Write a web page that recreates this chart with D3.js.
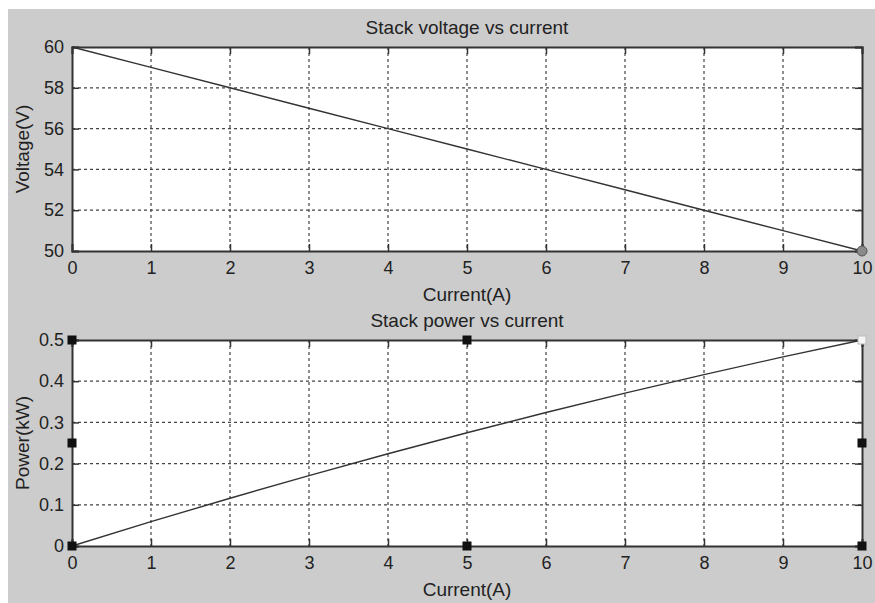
<!DOCTYPE html>
<html>
<head>
<meta charset="utf-8">
<script src="https://cdn.jsdelivr.net/npm/d3@7"></script>
<style>
  body { margin: 0; background: #fff; }
  text { font-family: "Liberation Sans", Arial, sans-serif; fill: #222; }
</style>
</head>
<body>
<script>
var current = [0, 1, 2, 3, 4, 5, 6, 7, 8, 9, 10];
var voltage = [60, 59, 58, 57, 56, 55, 54, 53, 52, 51, 50];
var power = [0, 0.059, 0.116, 0.171, 0.224, 0.275, 0.324, 0.371, 0.416, 0.459, 0.5];
var xTicks = [0, 1, 2, 3, 4, 5, 6, 7, 8, 9, 10];
var vTicks = [50, 52, 54, 56, 58, 60];
var pTicks = [0, 0.1, 0.2, 0.3, 0.4, 0.5];
// selection handles shown on the power axes
var handleX = [0, 5, 10, 0, 10, 0, 5, 10];
var handleY = [0.5, 0.5, 0.5, 0.25, 0.25, 0, 0, 0];

var width = 875, height = 603;

var svg = d3.select('body').append('svg')
  .attr('width', width)
  .attr('height', height);

svg.append('rect')
  .attr('x', 8).attr('y', 9)
  .attr('width', width - 8).attr('height', height - 9)
  .attr('fill', '#cccccc');

function panel(opts) {
  var x = d3.scaleLinear().domain([0, 10]).range([72, 862]);
  var y = d3.scaleLinear().domain(opts.domain).range([opts.bottom, opts.top]);
  var g = svg.append('g');

  g.append('rect')
    .attr('x', 72).attr('y', opts.top)
    .attr('width', 790).attr('height', opts.bottom - opts.top)
    .attr('fill', '#fff');

  // grid
  g.selectAll('.gx').data(xTicks.slice(1, -1)).enter().append('line')
    .attr('x1', function(d){ return x(d); }).attr('x2', function(d){ return x(d); })
    .attr('y1', opts.top).attr('y2', opts.bottom)
    .attr('stroke', '#444').attr('stroke-width', 1.2)
    .attr('stroke-dasharray', '3,3');
  g.selectAll('.gy').data(opts.ticks.slice(1, -1)).enter().append('line')
    .attr('y1', function(d){ return y(d); }).attr('y2', function(d){ return y(d); })
    .attr('x1', 72).attr('x2', 862)
    .attr('stroke', '#444').attr('stroke-width', 1.2)
    .attr('stroke-dasharray', '3,3');

  // axes with inward ticks
  var xb = d3.axisBottom(x).tickValues(xTicks).tickSize(-7).tickPadding(10);
  var xt = d3.axisTop(x).tickValues(xTicks).tickSize(-7).tickFormat('');
  var yl = d3.axisLeft(y).tickValues(opts.ticks).tickSize(-7).tickPadding(8).tickFormat(d3.format(opts.fmt));
  var yr = d3.axisRight(y).tickValues(opts.ticks).tickSize(-7).tickFormat('');

  [
    [xb, 'translate(0,' + opts.bottom + ')'],
    [xt, 'translate(0,' + opts.top + ')'],
    [yl, 'translate(72,0)'],
    [yr, 'translate(862,0)']
  ].forEach(function(a){
    var ax = g.append('g').attr('transform', a[1]).call(a[0]);
    ax.select('.domain').attr('stroke', '#333').attr('stroke-width', 2);
    ax.selectAll('.tick line').attr('stroke', '#333').attr('stroke-width', 1.5);
    ax.selectAll('.tick text')
      .style('font-family', '"Liberation Sans", Arial, sans-serif')
      .style('font-size', '18px').attr('fill', '#222');
  });

  var line = d3.line()
    .x(function(d, i){ return x(current[i]); })
    .y(function(d){ return y(d); });
  g.append('path').datum(opts.values)
    .attr('d', line)
    .attr('fill', 'none')
    .attr('stroke', '#333').attr('stroke-width', 1.4);

  g.append('text')
    .attr('x', 467).attr('y', opts.top - 13)
    .attr('text-anchor', 'middle')
    .style('font-size', '19px')
    .text(opts.title);
  g.append('text')
    .attr('x', 467).attr('y', opts.bottom + 50)
    .attr('text-anchor', 'middle')
    .style('font-size', '19px')
    .text('Current(A)');
  g.append('text')
    .attr('transform', 'translate(29,' + ((opts.top + opts.bottom) / 2) + ') rotate(-90)')
    .attr('text-anchor', 'middle')
    .style('font-size', '19px')
    .text(opts.ylabel);

  return { x: x, y: y, g: g };
}

var vPanel = panel({
  domain: [50, 60], ticks: vTicks, fmt: 'd',
  values: voltage, top: 47, bottom: 251,
  title: 'Stack voltage vs current', ylabel: 'Voltage(V)'
});
vPanel.g.append('circle')
  .attr('cx', vPanel.x(current[10])).attr('cy', vPanel.y(voltage[10]))
  .attr('r', 5)
  .attr('fill', '#8a8a8a').attr('stroke', '#555').attr('stroke-width', 1);

var pPanel = panel({
  domain: [0, 0.5], ticks: pTicks, fmt: '',
  values: power, top: 340, bottom: 546,
  title: 'Stack power vs current', ylabel: 'Power(kW)'
});
pPanel.g.selectAll('.handle').data(handleX).enter().append('rect')
  .attr('x', function(d){ return pPanel.x(d) - 4; })
  .attr('y', function(d, i){ return pPanel.y(handleY[i]) - 4; })
  .attr('width', 8).attr('height', 8)
  .attr('fill', function(d, i){ return (d === 10 && handleY[i] === 0.5) ? '#f4f4f4' : '#111'; })
  .attr('stroke', function(d, i){ return (d === 10 && handleY[i] === 0.5) ? '#bbb' : '#111'; });
</script>
</body>
</html>
